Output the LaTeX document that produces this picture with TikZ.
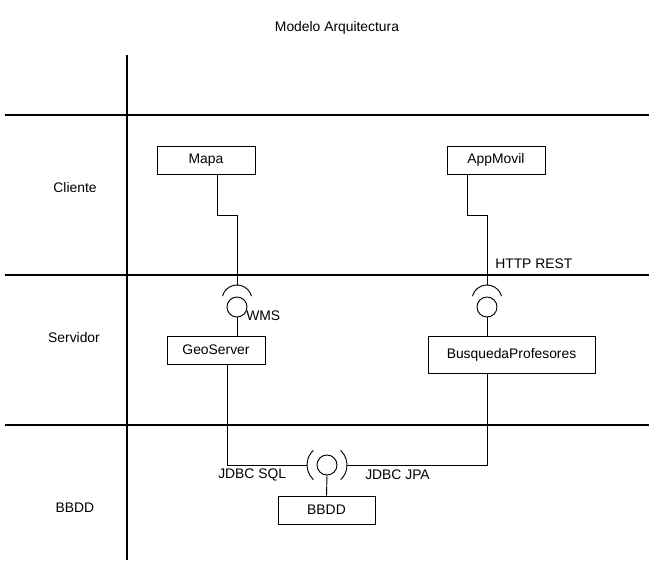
\documentclass[tikz,border=0pt]{standalone}
\usepackage{fontspec}
\setmainfont{Liberation Sans}
\colorlet{line color}{black}
\tikzset{box/.style={draw=line color, line width=0.7pt, minimum width=73.5pt, minimum height=21pt, inner sep=2pt},
    lane/.style={draw=line color, line width=0.8pt},
    wire/.style={draw=line color, line width=0.7pt},
    ball/.style={circle, draw=line color, line width=0.7pt, minimum size=15pt, inner sep=0pt},
    lbl/.style={inner sep=0pt}}

\begin{document}
\begin{tikzpicture}[x=0.75pt, y=-0.75pt, every node/.style={font=\fontsize{10.4}{12}\selectfont}]
    \useasboundingbox (0,0) rectangle (649,561);
    % lanes
    \draw[lane] (127,55) -- (127,560);
    \foreach \y in {115,275,425}
        \draw[lane] (5,\y) -- (649,\y);
    \node[lbl] (title)    at (337,28)  {Modelo Arquitectura};
    \node[lbl] (cliente)  at (75,188)  {Cliente};
    \node[lbl] (servidor) at (74,338)  {Servidor};
    \node[lbl] (bd)       at (75,508)  {BBDD};
    % components
    \node[box] (mapa) at (206,160)   {Mapa};
    \node[box] (app)  at (496,160)   {AppMovil};
    \node[box] (geo)  at (216,350)   {GeoServer};
    \node[box, minimum width=125.25pt, minimum height=27.75pt] (busq) at (511.5,354.5) {BusquedaProfesores};
    \node[box, minimum width=72.75pt] (bbdd) at (326.5,510) {BBDD};
    % interfaces
    \coordinate (wms)  at (237,300);
    \coordinate (rest) at (487,300);
    \coordinate (jdbc) at (327,465);
    \node[ball] (wmsball)  at (237,307) {};
    \node[ball] (restball) at (487,307) {};
    \node[ball] (jdbcball) at (327,465) {};
    \draw[wire] (wms)  ++(195:15) arc[start angle=195, end angle=345, radius=15];
    \draw[wire] (rest) ++(195:15) arc[start angle=195, end angle=345, radius=15];
    \draw[wire] (jdbc) ++(133:20) arc[start angle=133, end angle=227, radius=20];
    \draw[wire] (jdbc) ++(-47:20) arc[start angle=-47, end angle=47, radius=20];
    % connectors
    \draw[wire] ([shift={(11,0)}]mapa.south) -- ++(0,41) -| ([shift={(0,-15)}]wms);
    \draw[wire] (wmsball.south) -- (wmsball.south |- geo.north);
    \draw[wire] ([shift={(-29,0)}]app.south) -- ++(0,41) -| ([shift={(0,-15)}]rest);
    \draw[wire] (restball.south) -- (restball.south |- busq.north);
    \draw[wire] ([shift={(11,0)}]geo.south) |- ([shift={(-20,0)}]jdbc);
    \draw[wire] (busq.south -| restball) |- ([shift={(20,0)}]jdbc);
    \draw[wire] (jdbcball.south) -- (bbdd.north);
    % labels
    \node[lbl, anchor=west] (wmslbl)  at (246,316) {WMS};
    \node[lbl, anchor=west] (restlbl) at (495,264) {HTTP REST};
    \node[lbl, anchor=west] (sqllbl)  at (218,475) {JDBC SQL};
    \node[lbl, anchor=west] (jpalbl)  at (365,475) {JDBC JPA};
\end{tikzpicture}
\end{document}
